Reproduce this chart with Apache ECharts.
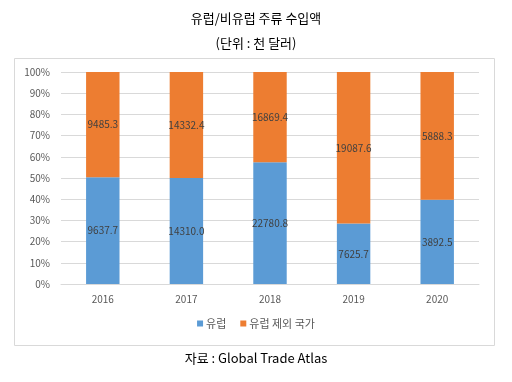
<!DOCTYPE html>
<html><head><meta charset="utf-8">
<script src="https://cdn.jsdelivr.net/npm/echarts@6/dist/echarts.min.js"></script>
<style>html,body{margin:0;padding:0;background:#fff}#c{width:512px;height:382px}</style>
</head><body><div id="c"></div>
<script>
const categories = ['2016','2017','2018','2019','2020'];
const europe = [9637.7, 14310.0, 22780.8, 7625.7, 3892.5];
const nonEurope = [9485.3, 14332.4, 16869.4, 19087.6, 5888.3];
const seriesNames = ['유럽', '유럽 제외 국가'];
const yTicks = [0,10,20,30,40,50,60,70,80,90,100];

const totals = categories.map((_, i) => europe[i] + nonEurope[i]);
const pct = arr => arr.map((v, i) => ({ value: v / totals[i] * 100, raw: v }));
const font = '"Noto Sans CJK KR", "Noto Sans", sans-serif';

const chart = echarts.init(document.getElementById('c'));
const lbl = {
  show: true, position: 'inside', color: '#404040', fontSize: 10, fontFamily: font,
  formatter: p => p.data.raw.toFixed(1)
};
chart.setOption({
  animation: false,
  textStyle: { fontFamily: font },
  title: [
    { text: '유럽/비유럽 주류 수입액', left: 'center', top: 7, textStyle: { fontSize: 13, fontWeight: 'normal', color: '#000', fontFamily: font } },
    { text: '(단위 : 천 달러)', left: 'center', top: 32, textStyle: { fontSize: 13, fontWeight: 'normal', color: '#000', fontFamily: font } },
    { text: '자료 : Global Trade Atlas', left: 'center', top: 347, textStyle: { fontSize: 13, fontWeight: 'normal', color: '#000', fontFamily: font } }
  ],
  graphic: [{ type: 'rect', shape: { x: 14.5, y: 58.5, width: 480, height: 287 }, style: { fill: 'none', stroke: '#d9d9d9', lineWidth: 1 }, silent: true, z: -1 }],
  legend: {
    data: seriesNames, bottom: 48, left: 'center', itemWidth: 6, itemHeight: 6, itemGap: 14,
    icon: 'rect', textStyle: { fontSize: 11, color: '#595959', fontFamily: font, padding: [0,0,0,-2] }
  },
  grid: { left: 61, right: 33, top: 72, bottom: 98 },
  xAxis: {
    type: 'category', data: categories,
    axisLine: { lineStyle: { color: '#d9d9d9' } }, axisTick: { show: false },
    axisLabel: { color: '#595959', fontSize: 10, margin: 10 }
  },
  yAxis: {
    type: 'value', min: 0, max: 100, interval: 10,
    axisLabel: { color: '#595959', fontSize: 10, margin: 11, formatter: v => yTicks.includes(v) ? v + '%' : '' },
    splitLine: { lineStyle: { color: '#d9d9d9' } }, axisLine: { show: false }, axisTick: { show: false }
  },
  series: [
    { name: seriesNames[0], type: 'bar', stack: 'a', data: pct(europe), barCategoryGap: '60%', itemStyle: { color: '#5b9bd5' }, label: lbl },
    { name: seriesNames[1], type: 'bar', stack: 'a', data: pct(nonEurope), barCategoryGap: '60%', itemStyle: { color: '#ed7d31' }, label: lbl }
  ]
});
</script></body></html>
